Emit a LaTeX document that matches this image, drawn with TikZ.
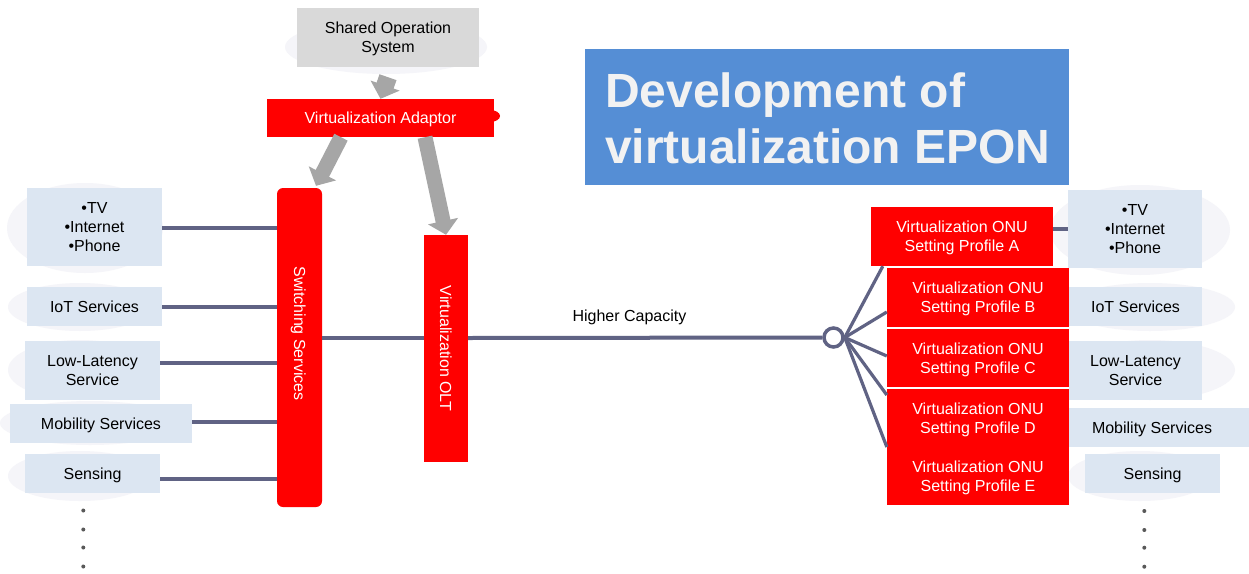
\documentclass[tikz,border=0pt]{standalone}
\usepackage{fontspec}
\setmainfont{Liberation Sans}
\usetikzlibrary{arrows.meta,calc}
\definecolor{svc}{RGB}{220,230,242}
\definecolor{vred}{RGB}{255,0,0}
\definecolor{conncol}{RGB}{96,99,132}
\definecolor{arrg}{RGB}{166,166,166}
\definecolor{sosg}{RGB}{217,217,217}
\definecolor{ttl}{RGB}{85,142,213}
\definecolor{ttltext}{RGB}{242,242,242}
\definecolor{blob}{RGB}{245,245,249}
\begin{document}
\begin{tikzpicture}[x=1pt,y=-1pt,
  lbl/.style={font=\fontsize{16}{19}\selectfont, align=center, inner sep=0pt, text depth=0pt},
  svcbox/.style={lbl, fill=svc},
  redbox/.style={lbl, fill=vred, text=white},
  conn/.style={draw=conncol, line width=4pt},
  fan/.style={draw=conncol, line width=3.2pt},
  blobshape/.style={fill=blob},
  bigarrow/.style={draw=arrg, line width=#1, -{Triangle[width=30pt,length=14pt]}},
  dotmark/.style={circle, fill=black!65, inner sep=0pt, minimum size=4pt}]
\useasboundingbox (0,0) rectangle (1249,573);
\fill[white] (0,0) rectangle (1249,573);
% faint background blobs
\fill[blobshape] (386,47) ellipse [x radius=101, y radius=27];
\fill[blobshape] (85,228) ellipse [x radius=78, y radius=45];
\fill[blobshape] (80,307) ellipse [x radius=72, y radius=24];
\fill[blobshape] (80,370) ellipse [x radius=72, y radius=30];
\fill[blobshape] (90,423) ellipse [x radius=90, y radius=22];
\fill[blobshape] (80,476) ellipse [x radius=72, y radius=25];
\fill[blobshape] (1140,230) ellipse [x radius=90, y radius=45];
\fill[blobshape] (1150,307) ellipse [x radius=85, y radius=24];
\fill[blobshape] (1150,370) ellipse [x radius=85, y radius=30];
\fill[blobshape] (1140,476) ellipse [x radius=72, y radius=25];
\fill[vred] (490,116) ellipse [x radius=10, y radius=6];

% title
\node[fill=ttl, minimum width=484pt, minimum height=136pt, inner sep=0pt] (title) at (827,117) {};
\node[anchor=base west, text=ttltext, inner sep=0pt, font=\fontsize{48}{56}\selectfont\bfseries] (title1) at (605,107) {Development of};
\node[anchor=base west, text=ttltext, inner sep=0pt, font=\fontsize{48}{56}\selectfont\bfseries] (title2) at (605,163) {virtualization EPON};

% top
\node[lbl, fill=sosg, minimum width=182pt, minimum height=59pt] (sos) at (388,37.5) {Shared Operation\\System};
\node[redbox, minimum width=227pt, minimum height=38pt] (va) at (380.5,118) {Virtualization Adaptor};

% switching and OLT
\node[fill=vred, rounded corners=6pt, minimum width=45pt, minimum height=319pt, inner sep=0pt] (sw) at (299.5,347.5) {};
\node[lbl, text=white, rotate=-90] (swt) at (300,333.5) {Switching Services};
\node[redbox, rotate=-90, minimum width=227pt, minimum height=44pt] (olt) at (446,348.5) {Virtualization OLT};

% arrows
\draw[bigarrow=18pt] ([yshift=-10pt]sos.south) -- (va.north);
\coordinate (a2s) at ([xshift=-39.5pt]va.south);
\coordinate (a2e) at ([xshift=16.5pt,yshift=2pt]sw.north);
\coordinate (a3s) at ([xshift=44.5pt]va.south);
\draw[bigarrow=15pt] (a2s) -- (a2e);
\draw[bigarrow=15pt] (a3s) -- (olt.west);

% left service boxes
\node[svcbox, minimum width=135pt, minimum height=78pt] (ltv) at (94.5,227) {\textbullet TV\\\textbullet Internet\\\textbullet Phone};
\node[svcbox, minimum width=135pt, minimum height=39pt] (liot) at (94.5,306.5) {IoT Services};
\node[svcbox, minimum width=135pt, minimum height=59pt] (lll) at (92.5,370.5) {Low-Latency\\Service};
\node[svcbox, minimum width=182pt, minimum height=39pt] (lmob) at (101,423.5) {Mobility Services};
\node[svcbox, minimum width=135pt, minimum height=39pt] (lsen) at (92.5,473.5) {Sensing};

\draw[conn] ([yshift=-0.7pt]ltv.east) coordinate (c1) -- (c1 -| sw.west);
\draw[conn] (liot.east) -- (liot.east -| sw.west);
\draw[conn] ([yshift=7.5pt]lll.east) coordinate (c3) -- (c3 -| sw.west);
\draw[conn] ([yshift=2pt]lmob.east) coordinate (c4) -- (c4 -| sw.west);
\draw[conn] ([yshift=-5pt]lsen.east) coordinate (c5) -- (c5 -| sw.west);

\foreach \yy/\nm in {510.5/ld1,529.5/ld2,547.5/ld3,566.5/ld4}
  \node[dotmark] (\nm) at (83.3,\yy) {};

% splitter
\node[circle, draw=conncol, line width=3.5pt, fill=white, minimum size=19pt, inner sep=0pt] (split) at (833.5,337.5) {};
\draw[conn] ([yshift=9.5pt]sw.east) coordinate (c0) -- (c0 -| olt.south);
\draw[conn] (c0 -| olt.north) -- (split.west);
\node[lbl, anchor=base] (hc) at (629.5,321) {Higher Capacity};

% ONU boxes
\node[redbox, minimum width=182pt, minimum height=59pt] (onua) at (962,236.5) {Virtualization ONU\\Setting Profile A};
\node[redbox, minimum width=182pt, minimum height=59pt] (onub) at (978,297.5) {Virtualization ONU\\Setting Profile B};
\node[redbox, minimum width=182pt, minimum height=58pt] (onuc) at (978,358) {Virtualization ONU\\Setting Profile C};
\node[redbox, minimum width=182pt, minimum height=58.5pt] (onud) at (978,418) {Virtualization ONU\\Setting Profile D};
\node[redbox, minimum width=182pt, minimum height=58.5pt] (onue) at (978,476) {Virtualization ONU\\Setting Profile E};

% fan lines
\draw[fan] (split.east) -- ([xshift=12pt]onua.south west);
\draw[fan] (split.east) -- ([yshift=-14.5pt]onub.west);
\draw[fan] (split.east) -- ([yshift=2pt]onuc.west);
\draw[fan] (split.east) -- ([yshift=23pt]onud.west);
\draw[fan] (split.east) -- ([yshift=29pt]onue.west);

% right service boxes
\node[svcbox, minimum width=134pt, minimum height=78pt] (rtv) at (1135,229) {\textbullet TV\\\textbullet Internet\\\textbullet Phone};
\node[svcbox, minimum width=133pt, minimum height=39pt] (riot) at (1135.5,306.5) {IoT Services};
\node[svcbox, minimum width=133pt, minimum height=59pt] (rll) at (1135.5,370.5) {Low-Latency\\Service};
\node[svcbox, minimum width=180pt, minimum height=39pt] (rmobbox) at (1159,427.5) {};
\node[lbl] (rmob) at (1152,427.5) {Mobility Services};
\node[svcbox, minimum width=135pt, minimum height=39pt] (rsen) at (1152.5,473.5) {Sensing};
\draw[conn] (rtv.west) -- (rtv.west -| onua.east);

\foreach \yy/\nm in {511/rd1,530/rd2,547.7/rd3,566.7/rd4}
  \node[dotmark] (\nm) at (1144.3,\yy) {};
\end{tikzpicture}
\end{document}
